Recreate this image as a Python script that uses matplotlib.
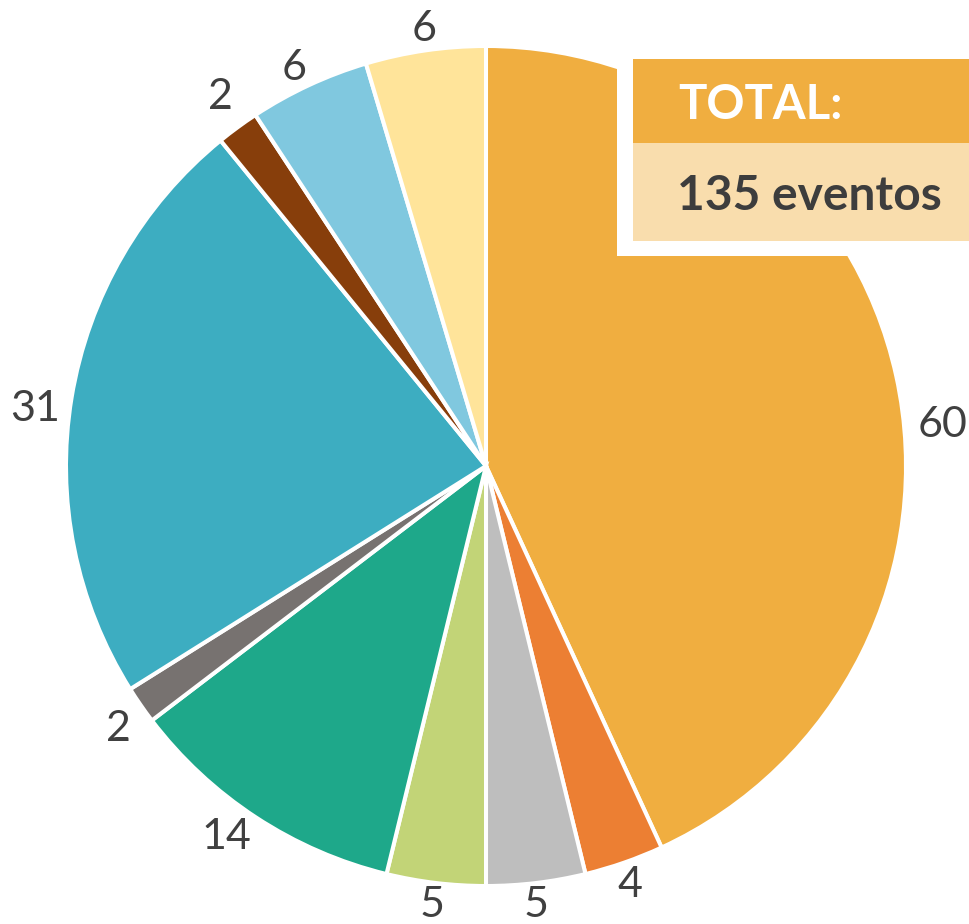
import matplotlib
matplotlib.use("Agg")
import matplotlib.pyplot as plt
import numpy as np
from matplotlib.patches import Rectangle

# event counts printed on the chart (total 135)
counts = [60, 4, 5, 5, 14, 2, 31, 2, 6, 6]
labels = [str(c) for c in counts]
# slice sizes as actually drawn in the reference
drawn_share = [58.24, 4.13, 5.14, 5.14, 14.63, 1.95, 31.09, 2.21, 6.26, 6.23]
colors = ["#F0AE40", "#EC7F33", "#BEBEBE", "#C2D477", "#1EA88A",
          "#777270", "#3DADC1", "#873E0B", "#80C8DF", "#FFE49A"]
label_dist = [1.093, 1.048, 1.044, 1.044, 1.071, 1.071, 1.083, 1.088, 1.059, 1.060]
label_turn = [6.75, 0.1, 0.25, 0.15, 2.1, -0.6, -1.75, 0.75, -0.65, 0.3]
total_title = "TOTAL:"
total_text = "135 eventos"

W, H = 969, 924
fig = plt.figure(figsize=(W / 100, H / 100), dpi=100)
ax = fig.add_axes([0, 0, 1, 1])

cx, cy, r = 486, H - 466, 420
wedges, _ = ax.pie(drawn_share, colors=colors, startangle=90, counterclock=False,
                   center=(cx, cy), radius=r, frame=True,
                   wedgeprops=dict(edgecolor="white", linewidth=2.9))
ax.set_xlim(0, W)
ax.set_ylim(0, H)
ax.set_aspect("equal")
ax.axis("off")

cap = 31  # digit height in px
for w, lab, d, t in zip(wedges, labels, label_dist, label_turn):
    ang = np.deg2rad((w.theta1 + w.theta2) / 2 - t)
    x = cx + d * r * np.cos(ang)
    y = cy + d * r * np.sin(ang)
    ax.text(x, y - cap / 2, lab, ha="center", va="baseline", fontsize=31,
            color="#404040", family="Lato")

# total box
ax.add_patch(Rectangle((617, H - 256), 400, 213, facecolor="white",
                       edgecolor="none", zorder=5))
ax.add_patch(Rectangle((633, H - 143), 400, 84, facecolor="#F0AE40",
                       edgecolor="none", zorder=6))
ax.add_patch(Rectangle((633, H - 241), 400, 98, facecolor="#F9DDAD",
                       edgecolor="none", zorder=6))
ax.text(678, H - 119, total_title, ha="left", va="baseline", fontsize=34,
        color="white", family="Lato", fontweight="bold", zorder=7)
ax.text(677, H - 210, total_text, ha="left", va="baseline", fontsize=34.5,
        color="#3D3D3D", family="Lato", fontweight="bold", zorder=7)

fig.savefig("out.png", dpi=100)
